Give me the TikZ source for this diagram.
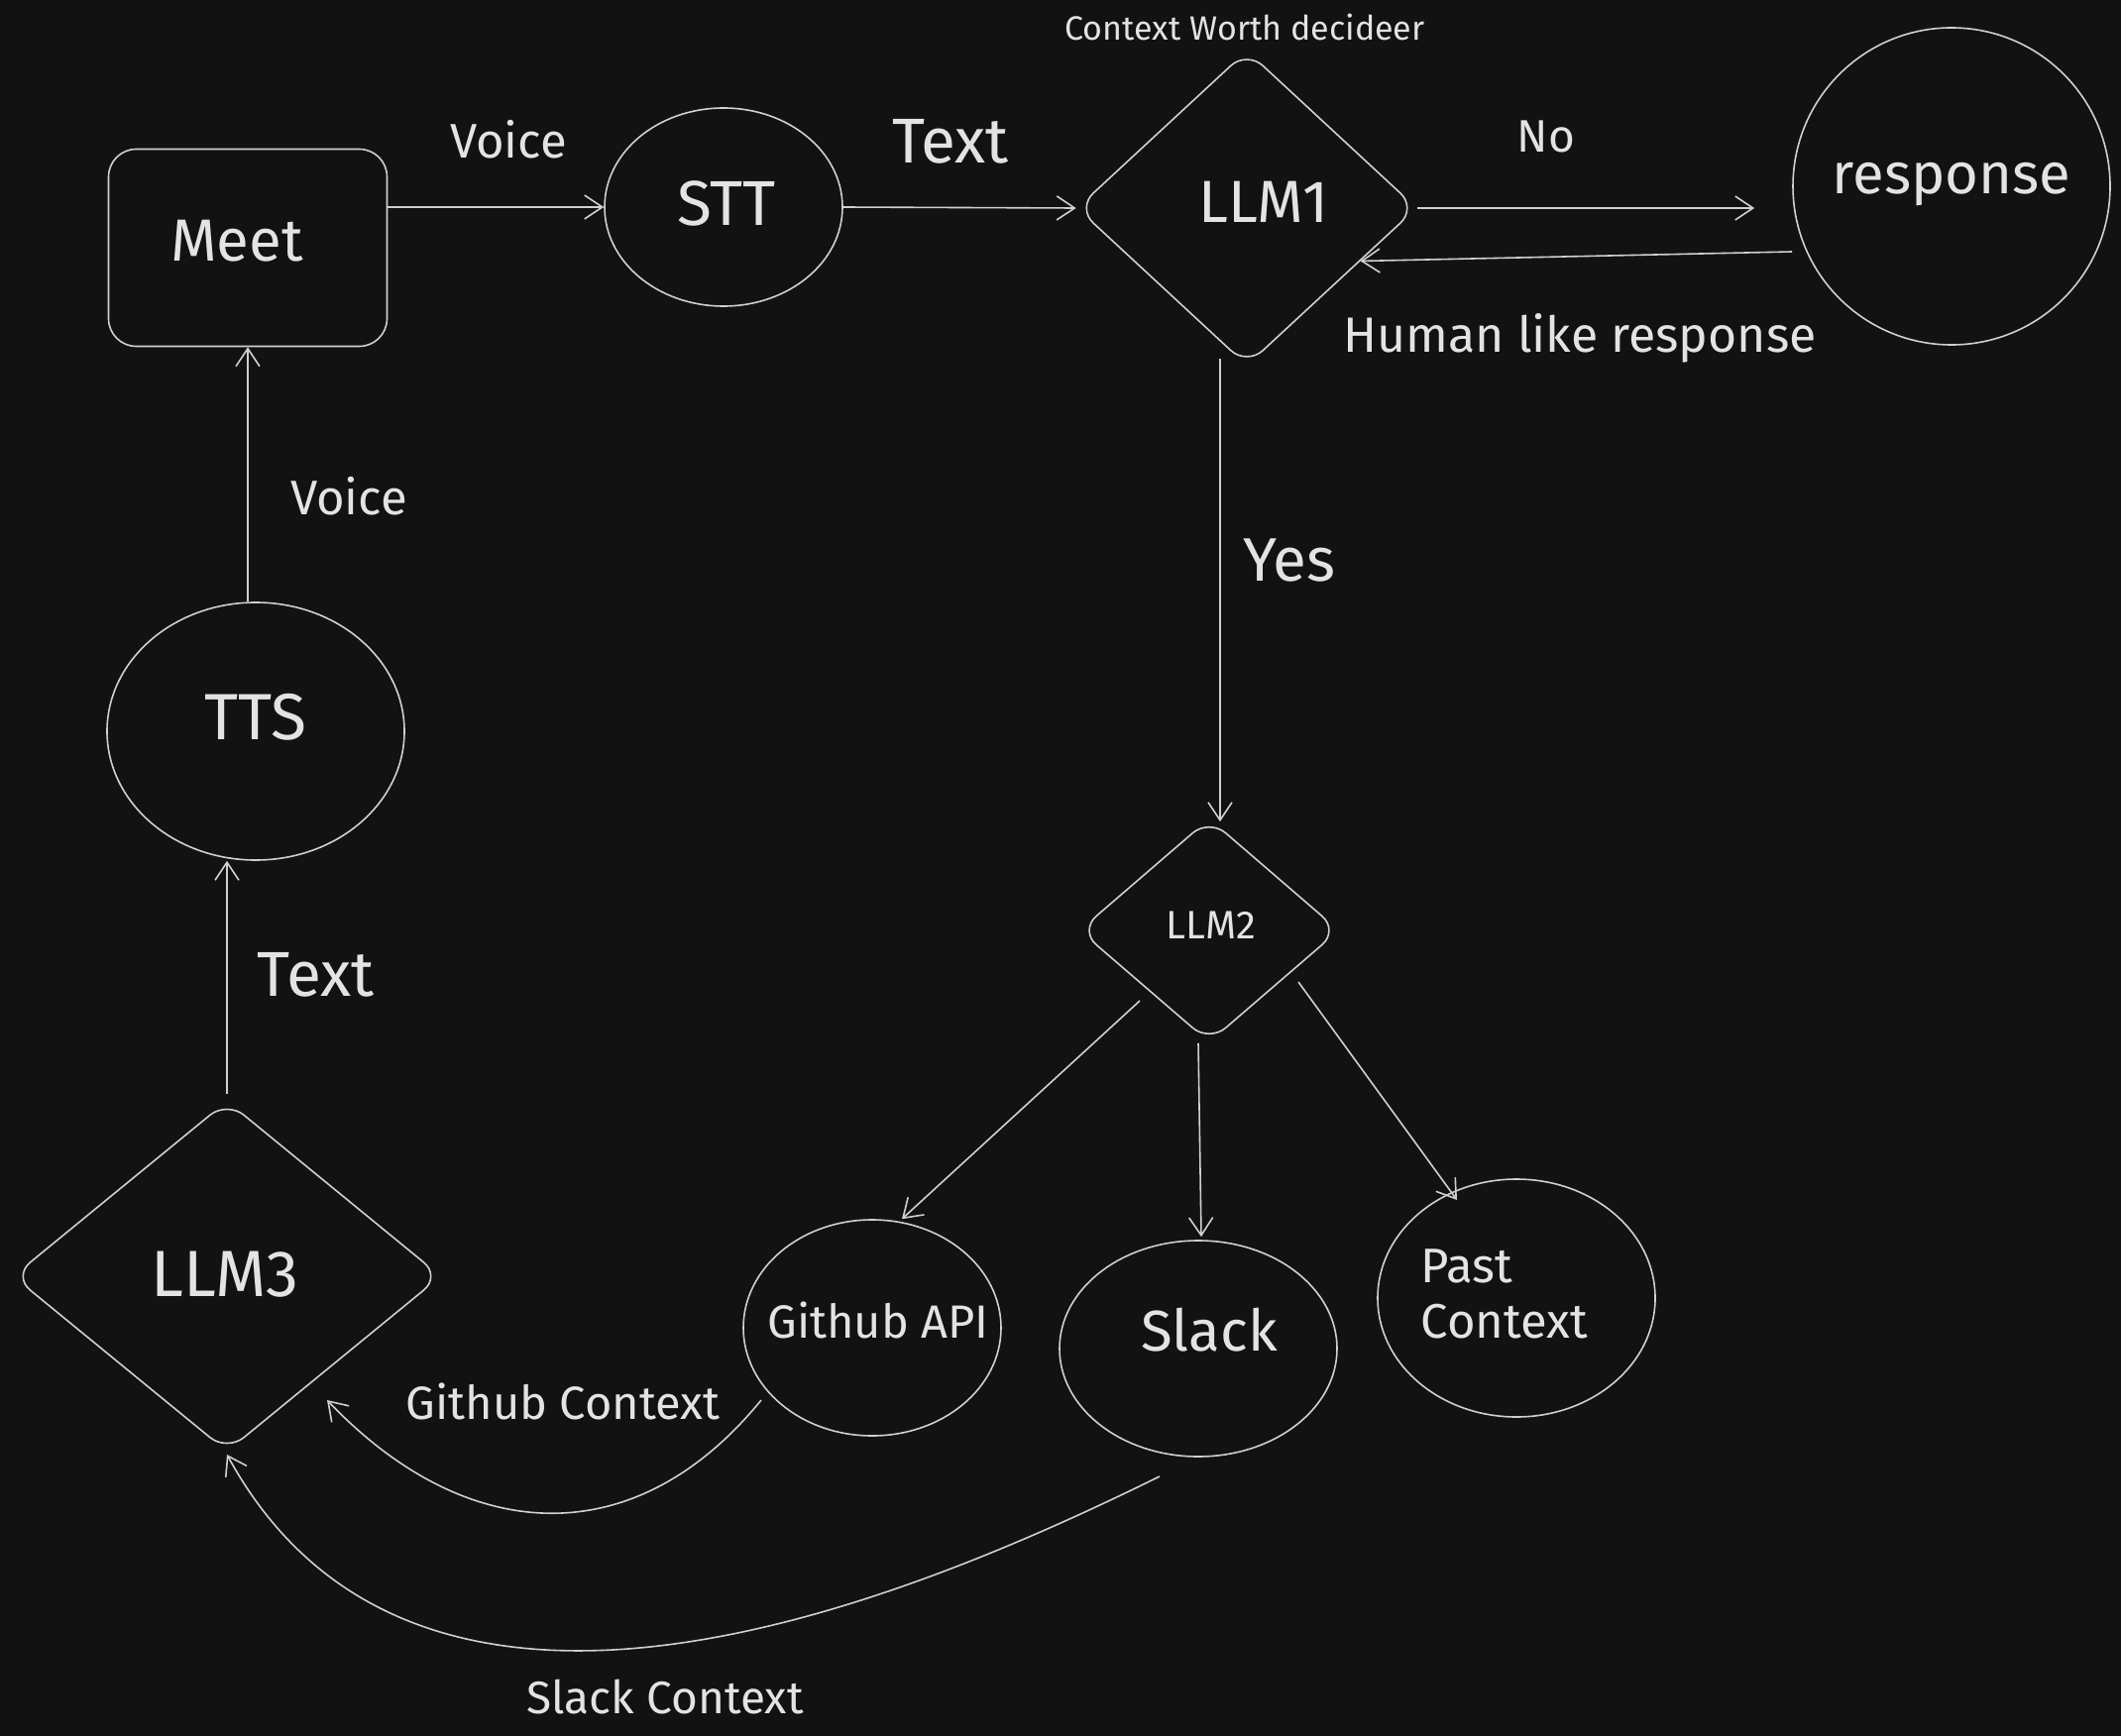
\documentclass[tikz,border=0pt]{standalone}
\usepackage{fontspec}
\setmainfont{Fira Sans}
\usetikzlibrary{shapes.geometric,arrows.meta,calc}
\definecolor{bg}{HTML}{121212}
\definecolor{ink}{HTML}{D0D0D0}
\definecolor{txt}{HTML}{E3E3E3}
\begin{document}
\begin{tikzpicture}[x=1pt,y=-1pt,
  shp/.style={draw=ink,line width=1.6pt,inner sep=0pt},
  rbox/.style={shp,rectangle,rounded corners=28pt},
  ell/.style={shp,ellipse},
  dia/.style={shp,diamond,rounded corners=22pt},
  conn/.style={draw=ink,line width=1.6pt,-{Straight Barb[length=18pt,width=24pt,line width=1.6pt]}},
  lbl/.style={text=txt,inner sep=0pt},
  fs/.style={font=\fontsize{#1}{#1}\selectfont},
]
\fill[bg] (0,0) rectangle (2140,1752);
\useasboundingbox (0,0) rectangle (2140,1752);

% shapes
\node[rbox,minimum width=281pt,minimum height=199pt] (meet) at (250,250) {};
\node[ell,minimum width=240pt,minimum height=200pt] (stt) at (730,209) {};
\node[dia,minimum width=343pt,minimum height=318pt] (llm1) at (1258,210) {};
\node[ell,minimum width=320pt,minimum height=320pt] (resp) at (1969,188) {};
\node[ell,minimum width=300pt,minimum height=260pt] (tts) at (258,738) {};
\node[dia,minimum width=262pt,minimum height=226pt] (llm2) at (1220,939) {};
\node[dia,minimum width=432pt,minimum height=354pt] (llm3) at (229,1288) {};
\node[ell,minimum width=260pt,minimum height=218pt] (gh) at (880,1340) {};
\node[ell,minimum width=280pt,minimum height=218pt] (slack) at (1209,1361) {};
\node[ell,minimum width=280pt,minimum height=240pt] (past) at (1530,1310) {};

% shape texts
\node[lbl,fs=60] (meettxt) at (239,243) {Meet};
\node[lbl,fs=64] (stttxt) at (733,205) {STT};
\node[lbl,fs=60] (llm1txt) at (1275,204) {LLM1};
\node[lbl,fs=58] (resptxt) at (1969,186) {response};
\node[lbl,fs=66] (ttstxt) at (258,724) {TTS};
\node[lbl,fs=40] (llm2txt) at (1222,934) {LLM2};
\node[lbl,fs=66] (llm3txt) at (227,1286) {LLM3};
\node[lbl,fs=47] (ghtxt) at (886,1332) {Github API};
\node[lbl,fs=58] (slacktxt) at (1220,1342) {Slack};
\node[lbl,align=left,font=\fontsize{49}{56}\selectfont] (pasttxt) at (1518,1306) {Past\\Context};

% edge labels
\node[lbl,fs=34] (ctxw) at (1256,27) {Context Worth decideer};
\node[lbl,fs=49] (voice1) at (513,141) {Voice};
\node[lbl,fs=64] (text1) at (959,143) {Text};
\node[lbl,fs=46] (no) at (1560,138) {No};
\node[lbl,fs=50] (human) at (1594,341) {Human like response};
\node[lbl,fs=62] (yes) at (1301,566) {Yes};
\node[lbl,fs=49] (voice2) at (352,501) {Voice};
\node[lbl,fs=64] (text2) at (319,984) {Text};
\node[lbl,fs=47] (ghctx) at (568,1414) {Github Context};
\node[lbl,fs=46] (slctx) at (671,1713) {Slack Context};

% connectors
\draw[conn] (meet.east |- stt.west) -- (stt.west);
\draw[conn] (stt.east) -- (llm1.west);
\draw[conn] (llm1.east) -- ($(resp.west |- llm1.east)+(-38,0)$);
\draw[conn] ($(resp.west)+(0,66)$) -- (llm1.-25);
\draw[conn] ($(llm1.south)+(-27,-8)$) -- ($(llm2.north)+(11,4)$);
\draw[conn] ($(llm2)+(-70,71)$) -- ($(gh.north)+(30,0)$);
\draw[conn] ($(llm2.south)+(-11,0)$) -- ($(slack.north)+(3,-3)$);
\draw[conn] ($(llm2)+(90,52)$) -- ($(past)+(-60,-99)$);
\draw[conn] ($(gh)+(-112,73)$) .. controls ($(gh)+(-240,230)$) and ($(llm3)+(241,272)$) .. ($(llm3)+(101,125)$);
\draw[conn] ($(slack)+(-39,129)$) .. controls ($(slack)+(-309,262)$) and ($(llm3)+(191,530)$) .. ($(llm3)+(0,180)$);
\draw[conn] ($(llm3.north)+(0,-6)$) -- (llm3.north |- tts.south);
\draw[conn] (tts.north -| meet.south) -- (meet.south);
\end{tikzpicture}
\end{document}
